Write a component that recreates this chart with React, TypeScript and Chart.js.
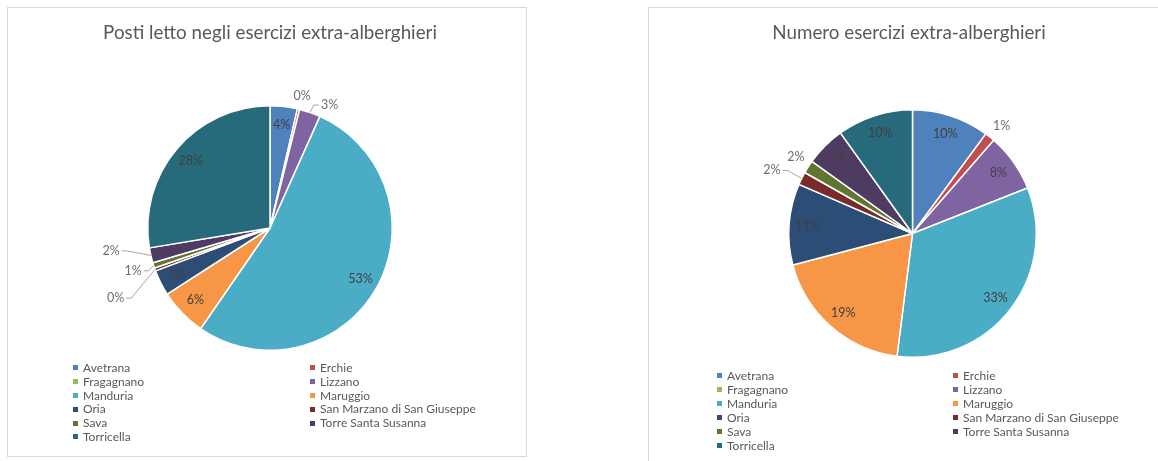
import React, { useEffect, useRef } from 'react';
import { Chart, registerables } from 'chart.js';

Chart.register(...registerables);

// ---------- DATA ----------
const categories = [
  'Avetrana',
  'Erchie',
  'Fragagnano',
  'Lizzano',
  'Manduria',
  'Maruggio',
  'Oria',
  'San Marzano di San Giuseppe',
  'Sava',
  'Torre Santa Susanna',
  'Torricella',
];

// share (%) of beds in extra-hotel accommodation
const postiLetto = [3.6, 0.3, 0, 2.8, 52.9, 6.3, 3.4, 0.4, 0.7, 2.0, 27.6];
// share (%) of extra-hotel establishments
const numeroEsercizi = [10.1, 1.3, 0, 7.6, 33.0, 18.9, 10.6, 1.7, 1.7, 5.2, 9.9];

const titleLeft = 'Posti letto negli esercizi extra-alberghieri';
const titleRight = 'Numero esercizi extra-alberghieri';

const colors = [
  '#4F81BD',
  '#C0504D',
  '#9BBB59',
  '#8064A2',
  '#4BACC6',
  '#F79646',
  '#2C4D75',
  '#772C2A',
  '#5F7530',
  '#4D3B62',
  '#276A7C',
];

const FONT = 'Lato, "Open Sans", sans-serif';

// ---------- label plugin ----------
const pieLabels = {
  id: 'pieLabels',
  afterDatasetsDraw(chart: any, _args: any, opts: any) {
    const ctx = chart.ctx as CanvasRenderingContext2D;
    const meta = chart.getDatasetMeta(0);
    const data = chart.data.datasets[0].data as number[];
    const total = data.reduce((a: number, b: number) => a + b, 0);
    const offsets = (opts && opts.offsets) || {};
    const threshold = (opts && opts.threshold) || 3;
    ctx.save();
    ctx.font = '12.5px ' + FONT;
    ctx.textAlign = 'center';
    ctx.textBaseline = 'middle';
    meta.data.forEach((arc: any, i: number) => {
      const v = data[i];
      if (!v) return;
      const pctRaw = (v / total) * 100;
      const text = Math.round(pctRaw) + '%';
      const p = arc.getProps(['x', 'y', 'startAngle', 'endAngle', 'outerRadius'], true);
      const mid = (p.startAngle + p.endAngle) / 2;
      if (pctRaw >= threshold) {
        const r = p.outerRadius * 0.85;
        ctx.fillStyle = '#404040';
        ctx.fillText(text, p.x + r * Math.cos(mid), p.y + r * Math.sin(mid));
      } else {
        const off = offsets[i] || [0, 0];
        const r = p.outerRadius + 11;
        const lx = p.x + r * Math.cos(mid) + off[0];
        const ly = p.y + r * Math.sin(mid) + off[1];
        ctx.fillStyle = '#6f6f6f';
        ctx.fillText(text, lx, ly);
        if (Math.hypot(off[0], off[1]) > 8) {
          const ex = p.x + p.outerRadius * Math.cos(mid);
          const ey = p.y + p.outerRadius * Math.sin(mid);
          const w = ctx.measureText(text).width;
          const dir = lx < ex ? 1 : -1;
          const endX = lx + dir * (w / 2 + 2);
          ctx.strokeStyle = '#a6a6a6';
          ctx.lineWidth = 1;
          ctx.beginPath();
          ctx.moveTo(ex, ey);
          ctx.lineTo(endX + dir * 5, ly);
          ctx.lineTo(endX, ly);
          ctx.stroke();
        }
      }
    });
    ctx.restore();
  },
};

type PieProps = {
  values: number[];
  left: number;
  width: number;
  padding: { left: number; right: number; top: number; bottom: number };
  offsets: Record<number, [number, number]>;
};

function PieCanvas({ values, left, width, padding, offsets }: PieProps) {
  const ref = useRef<HTMLCanvasElement | null>(null);
  useEffect(() => {
    if (!ref.current) return;
    const chart = new Chart(ref.current, {
      type: 'pie',
      data: {
        labels: categories,
        datasets: [
          {
            data: values,
            backgroundColor: colors,
            borderColor: '#ffffff',
            borderWidth: 1.5,
          },
        ],
      },
      options: {
        responsive: false,
        animation: false,
        layout: { padding },
        plugins: {
          legend: { display: false },
          title: { display: false },
          tooltip: { enabled: false },
          pieLabels: { offsets, threshold: 3 },
        } as any,
      },
      plugins: [pieLabels as any],
    });
    return () => chart.destroy();
  }, []);
  return (
    <canvas
      ref={ref}
      width={width}
      height={461}
      style={{ position: 'absolute', left, top: 0, width, height: 461 }}
    />
  );
}

function Legend({ x1, x2, y0, dy }: { x1: number; x2: number; y0: number; dy: number }) {
  return (
    <>
      {categories.map((c, i) => {
        const row = Math.floor(i / 2);
        const col = i % 2;
        const x = col === 0 ? x1 : x2;
        const y = y0 + row * dy;
        return (
          <div
            key={c}
            style={{
              position: 'absolute',
              left: x,
              top: y - 8,
              height: 16,
              lineHeight: '16px',
              fontFamily: FONT,
              fontSize: 12,
              color: '#595959',
              whiteSpace: 'nowrap',
            }}
          >
            <span
              style={{
                display: 'inline-block',
                width: 5,
                height: 5,
                background: colors[i],
                marginRight: 5,
                verticalAlign: 'middle',
                position: 'relative',
                top: -1,
              }}
            />
            {c}
          </div>
        );
      })}
    </>
  );
}

function Title({ text, cx, cy }: { text: string; cx: number; cy: number }) {
  return (
    <div
      style={{
        position: 'absolute',
        left: cx - 250,
        width: 500,
        top: cy - 13,
        height: 26,
        lineHeight: '26px',
        textAlign: 'center',
        fontFamily: FONT,
        fontSize: 18.8,
        color: '#595959',
        whiteSpace: 'nowrap',
      }}
    >
      {text}
    </div>
  );
}

export default function App() {
  return (
    <div
      style={{
        position: 'absolute',
        left: 0,
        top: 0,
        width: 1158,
        height: 461,
        overflow: 'hidden',
        background: '#ffffff',
      }}
    >
      <div
        style={{
          position: 'absolute',
          left: 7,
          top: 7,
          width: 520,
          height: 450,
          boxSizing: 'border-box',
          border: '1px solid #d9d9d9',
        }}
      />
      <div
        style={{
          position: 'absolute',
          left: 648,
          top: 7,
          width: 540,
          height: 480,
          boxSizing: 'border-box',
          border: '1px solid #d9d9d9',
        }}
      />
      <PieCanvas
        values={postiLetto}
        left={0}
        width={560}
        padding={{ left: 147, top: 105, right: 167, bottom: 110 }}
        offsets={{ 1: [1, -2], 3: [16, 3], 7: [-29, 25], 8: [-10, 2], 9: [-29, -7] }}
      />
      <PieCanvas
        values={numeroEsercizi}
        left={600}
        width={558}
        padding={{ left: 188, top: 109, right: 121, bottom: 103 }}
        offsets={{ 1: [5, -2], 7: [-20, -3], 8: [-3, -4] }}
      />
      <Title text={titleLeft} cx={270} cy={32} />
      <Title text={titleRight} cx={909} cy={32} />
      <Legend x1={73} x2={310} y0={368} dy={13.8} />
      <Legend x1={717} x2={953} y0={376} dy={14} />
    </div>
  );
}
